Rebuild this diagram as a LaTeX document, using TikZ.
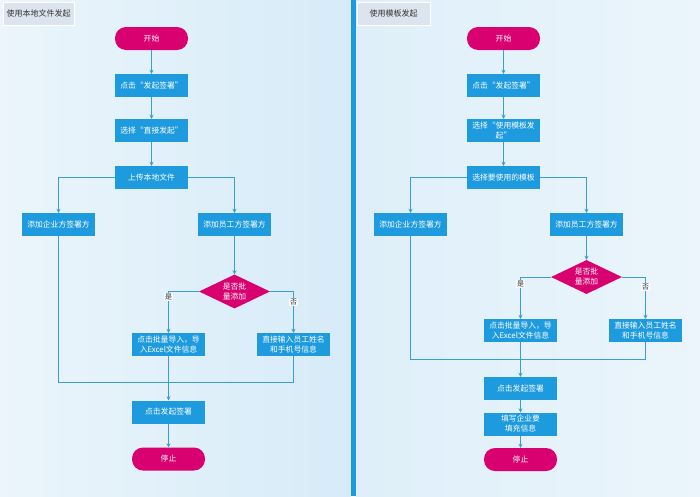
\documentclass[tikz,border=0pt]{standalone}
\usepackage{fontspec}
\setmainfont{Noto Sans CJK SC}
\usetikzlibrary{shapes.geometric,arrows.meta}
\definecolor{boxblue}{HTML}{1E9BDF}
\definecolor{linkblue}{HTML}{3A9ED6}
\definecolor{mag}{HTML}{D9006F}
\definecolor{titlebg}{HTML}{DCE5EF}
\definecolor{bgA}{HTML}{EBF5FB}
\definecolor{bgB}{HTML}{D6EBF8}
\definecolor{barblue}{HTML}{1F9BDC}
\tikzset{
  proc/.style={rectangle, fill=boxblue, text=white, minimum width=73pt, minimum height=23pt, inner sep=0pt, font=\fontsize{7.8}{10}\selectfont, align=center, text width=73pt},
  term/.style={rectangle, rounded corners=11pt, fill=mag, text=white, minimum width=73pt, minimum height=23pt, inner sep=0pt, font=\fontsize{7.8}{10}\selectfont},
  dec/.style={diamond, fill=mag, text=white, minimum width=71pt, minimum height=34pt, aspect=2.1, inner sep=0pt, font=\fontsize{7.8}{10}\selectfont, align=center},
  conn/.style={draw=linkblue, line width=0.7pt},
  arr/.style={conn, -{Stealth[length=4pt,width=4pt]}},
  lbl/.style={fill=white!70!bgA, text=black!80, font=\fontsize{7}{8}\selectfont, inner sep=0.8pt},
  ttl/.style={fill=titlebg, draw=white, text=black!80, font=\fontsize{8}{9}\selectfont, minimum height=23pt, inner sep=2pt, anchor=north west}
}
\begin{document}
\begin{tikzpicture}[x=1pt,y=-1pt]
\useasboundingbox (0,0) rectangle (700,496);
% backgrounds
\shade[left color=bgA, right color=bgB] (0,0) rectangle (351,496);
\shade[left color=bgB!60!bgA, right color=bgA] (356,0) rectangle (700,496);
\fill[barblue] (351,0) rectangle (356,496);
\node[ttl, minimum width=71pt] (tl) at (3,2) {使用本地文件发起};
\node[ttl, minimum width=73pt] (tr) at (357,2) {使用模板发起};

% ---------- left ----------
\node[term] (ls) at (151.5,38.5) {开始};
\node[proc] (l1) at (151.5,85.5) {点击“发起签署”};
\node[proc] (l2) at (151.5,130.5) {选择“直接发起”};
\node[proc] (l3) at (151.5,177.5) {上传本地文件};
\node[proc] (lent) at (58.5,224.5) {添加企业方签署方};
\node[proc] (lemp) at (234.5,224.5) {添加员工方签署方};
\node[dec] (ld) at (234.5,291.5) {是否批\\量添加};
\node[proc] (lb) at (168.5,344.5) {点击批量导入，导\\入Excel文件信息};
\node[proc] (ldir) at (293.5,344.5) {直接输入员工姓名\\和手机号信息};
\node[proc] (ll) at (168.5,412) {点击发起签署};
\node[term] (lstop) at (168.5,459) {停止};
\coordinate (lm) at (168.5,382);

\draw[arr] (ls) -- (l1);
\draw[arr] (l1) -- (l2);
\draw[arr] (l2) -- (l3);
\draw[arr] (l3.west) -| (lent.north);
\draw[arr] (l3.east) -| (lemp.north);
\draw[arr] (lemp) -- (ld);
\draw[arr] (ld.west) -| node[lbl, pos=0.57] {是} (lb.north);
\draw[arr] (ld.east) -| node[lbl, pos=0.63] {否} (ldir.north);
\draw[conn] (lent.south) |- (lm) -| (ldir.south);
\draw[arr] (lb) -- (ll);
\draw[arr] (ll) -- (lstop);

% ---------- right ----------
\node[term] (rs) at (503.5,38.5) {开始};
\node[proc] (r1) at (503.5,85.5) {点击“发起签署”};
\node[proc] (r2) at (503.5,130.5) {选择“使用模板发\\起”};
\node[proc] (r3) at (503.5,177.5) {选择要使用的模板};
\node[proc] (rent) at (410.5,224.5) {添加企业方签署方};
\node[proc] (remp) at (586.5,224.5) {添加员工方签署方};
\node[dec] (rd) at (586.5,277) {是否批\\量添加};
\node[proc] (rb) at (520.5,330.5) {点击批量导入，导\\入Excel文件信息};
\node[proc] (rdir) at (645.5,330.5) {直接输入员工姓名\\和手机号信息};
\node[proc] (rl) at (520.5,388.5) {点击发起签署};
\node[proc] (rf) at (520.5,424) {填写企业要\\填充信息};
\node[term] (rstop) at (520.5,459.5) {停止};
\coordinate (rm) at (520.5,359);

\draw[arr] (rs) -- (r1);
\draw[arr] (r1) -- (r2);
\draw[arr] (r2) -- (r3);
\draw[arr] (r3.west) -| (rent.north);
\draw[arr] (r3.east) -| (remp.north);
\draw[arr] (remp) -- (rd);
\draw[arr] (rd.west) -| node[lbl, pos=0.58] {是} (rb.north);
\draw[arr] (rd.east) -| node[lbl, pos=0.62] {否} (rdir.north);
\draw[conn] (rent.south) |- (rm) -| (rdir.south);
\draw[arr] (rb) -- (rl);
\draw[arr] (rl) -- (rf);
\draw[arr] (rf) -- (rstop);
\end{tikzpicture}
\end{document}
